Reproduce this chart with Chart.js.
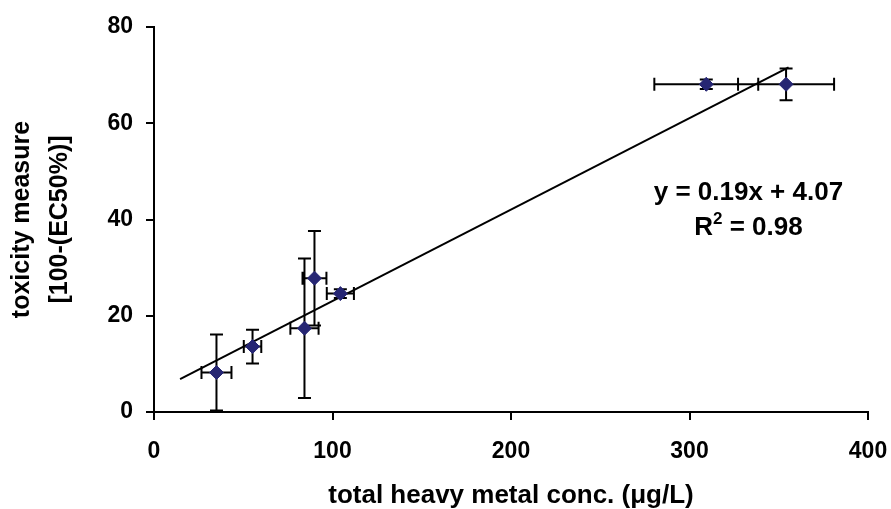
<!DOCTYPE html>
<html>
<head>
<meta charset="utf-8">
<script src="https://cdn.jsdelivr.net/npm/chart.js@4"></script>
<style>
  html, body { margin: 0; padding: 0; background: #fff; }
  #wrap { width: 891px; height: 509px; }
</style>
</head>
<body>
<div id="wrap"><canvas id="ToxicityChart"></canvas></div>
<script>
// metal concentration (ug/L) vs toxicity, with x and y error bars
var concVals = [35.0, 55.2, 84.3, 89.9, 104.4, 309.4, 354.1];
var concErr = [8.4, 4.9, 7.9, 6.7, 7.6, 29.1, 26.9];
var toxVals = [8.2, 13.6, 17.4, 27.8, 24.6, 68.1, 68.1];
var toxErr = [7.9, 3.5, 14.5, 9.8, 0.9, 1.0, 3.3];

// linear fit y = 0.19x + 4.07, R2 = 0.98
var fitSlope = 0.19;
var fitIntercept = 4.07;
var fitRange = [14.6, 355.5];
var fitLabel = 'y = 0.19x + 4.07';
var r2Label = ' = 0.98';

var xTicks = [0, 100, 200, 300, 400];
var yTicks = [0, 20, 40, 60, 80];

var FONT = "'Liberation Sans', Arial, sans-serif";
var markerColor = '#262673';

var points = concVals.map(function (x, i) { return { x: x, y: toxVals[i] }; });
var fitLine = fitRange.map(function (x) { return { x: x, y: fitSlope * x + fitIntercept }; });

var errorBars = {
    id: 'errorBars',
    beforeDatasetsDraw: function (chart) {
        var xs = chart.scales.x, ys = chart.scales.y, c = chart.ctx;
        var cap = 6.5;
        c.save();
        c.strokeStyle = '#000';
        c.lineWidth = 2;
        c.beginPath();
        for (var i = 0; i < concVals.length; i++) {
            var px = xs.getPixelForValue(concVals[i]);
            var py = ys.getPixelForValue(toxVals[i]);
            var x0 = xs.getPixelForValue(concVals[i] - concErr[i]);
            var x1 = xs.getPixelForValue(concVals[i] + concErr[i]);
            var y0 = ys.getPixelForValue(toxVals[i] - toxErr[i]);
            var y1 = ys.getPixelForValue(toxVals[i] + toxErr[i]);
            // horizontal bar
            c.moveTo(x0, py); c.lineTo(x1, py);
            c.moveTo(x0, py - cap); c.lineTo(x0, py + cap);
            c.moveTo(x1, py - cap); c.lineTo(x1, py + cap);
            // vertical bar
            c.moveTo(px, y0); c.lineTo(px, y1);
            c.moveTo(px - cap, y0); c.lineTo(px + cap, y0);
            c.moveTo(px - cap, y1); c.lineTo(px + cap, y1);
        }
        c.stroke();
        c.restore();
    }
};

var fitText = {
    id: 'fitText',
    afterDraw: function (chart) {
        var xs = chart.scales.x, ys = chart.scales.y, c = chart.ctx;
        var cx = xs.getPixelForValue(333);
        c.save();
        c.fillStyle = '#000';
        c.textBaseline = 'middle';
        c.font = 'bold 26px ' + FONT;
        c.textAlign = 'center';
        c.fillText(fitLabel, cx, ys.getPixelForValue(45.6));
        // R squared with superscript
        var y2 = ys.getPixelForValue(38.3);
        var wR = c.measureText('R').width;
        var wRest = c.measureText(r2Label).width;
        c.font = 'bold 17px ' + FONT;
        var wSup = c.measureText('2').width;
        var start = cx - (wR + wSup + wRest) / 2;
        c.textAlign = 'left';
        c.font = 'bold 26px ' + FONT;
        c.fillText('R', start, y2);
        c.fillText(r2Label, start + wR + wSup, y2);
        c.font = 'bold 17px ' + FONT;
        c.fillText('2', start + wR, y2 - 8);
        c.restore();
    }
};

var ctx = document.getElementById('ToxicityChart').getContext('2d');
var ToxicityChart = new Chart(ctx, {
    type: 'scatter',
    data: {
        datasets: [{
            label: 'samples',
            data: points,
            pointStyle: 'rectRot',
            pointRadius: 7,
            pointHoverRadius: 7,
            backgroundColor: markerColor,
            borderColor: markerColor,
            borderWidth: 1
        }, {
            label: 'linear fit',
            data: fitLine,
            showLine: true,
            pointRadius: 0,
            borderColor: '#000',
            borderWidth: 2
        }]
    },
    options: {
        responsive: true,
        maintainAspectRatio: false,
        animation: false,
        layout: { padding: { top: 27, right: 23, left: 0, bottom: 0 } },
        plugins: {
            legend: { display: false },
            tooltip: { enabled: false }
        },
        scales: {
            x: {
                type: 'linear',
                min: 0,
                max: 400,
                afterBuildTicks: function (s) { s.ticks = xTicks.map(function (v) { return { value: v }; }); },
                afterFit: function (s) { s.height = 97; s.paddingLeft = 0; s.paddingRight = 0; },
                border: { display: true, color: '#000', width: 2 },
                grid: { drawOnChartArea: false, drawTicks: true, tickLength: 8, color: '#000', lineWidth: 2 },
                ticks: { color: '#000', padding: 18, font: { family: FONT, size: 23, weight: 'bold' } },
                title: {
                    display: true,
                    text: 'total heavy metal conc. (\u03bcg/L)',
                    color: '#000',
                    padding: 0,
                    font: { family: FONT, size: 26, weight: 'bold', lineHeight: 1 }
                }
            },
            y: {
                type: 'linear',
                min: 0,
                max: 80,
                afterBuildTicks: function (s) { s.ticks = yTicks.map(function (v) { return { value: v }; }); },
                afterFit: function (s) { s.width = 154; s.paddingTop = 0; s.paddingBottom = 0; },
                border: { display: true, color: '#000', width: 2 },
                grid: { drawOnChartArea: false, drawTicks: true, tickLength: 8, color: '#000', lineWidth: 2 },
                ticks: { color: '#000', padding: 13, font: { family: FONT, size: 23, weight: 'bold' } },
                title: {
                    display: true,
                    text: ['toxicity measure', '[100-(EC50%)]'],
                    color: '#000',
                    padding: { top: 3, bottom: 0 },
                    font: { family: FONT, size: 25, weight: 'bold', lineHeight: 1.52 }
                }
            }
        }
    },
    plugins: [errorBars, fitText]
});
</script>
</body>
</html>
